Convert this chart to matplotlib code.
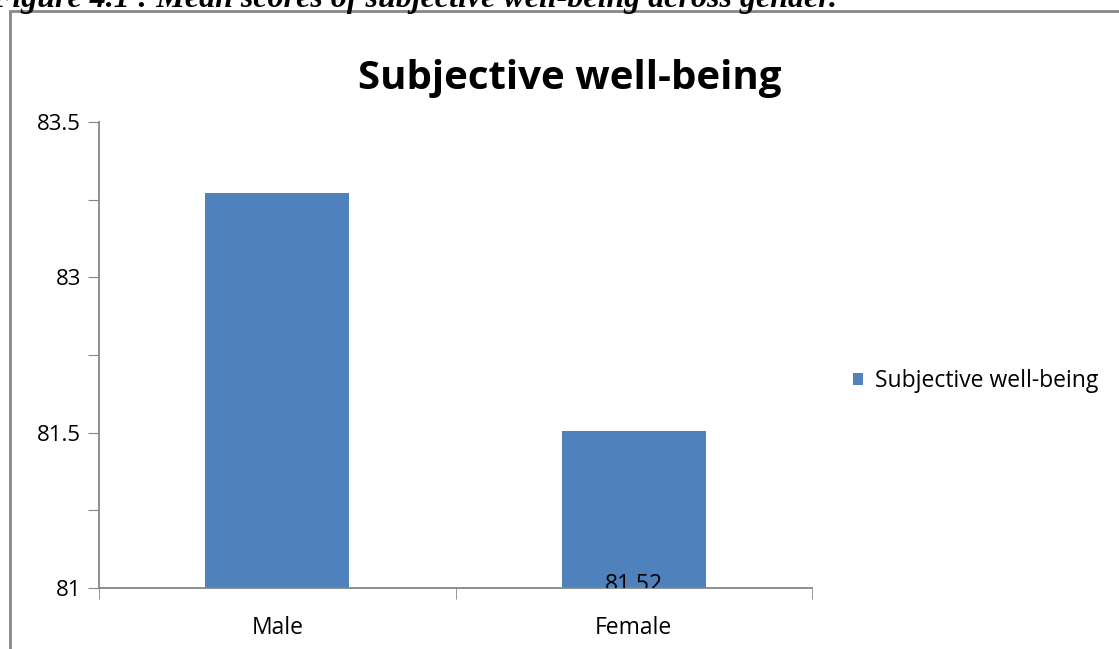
import numpy as np
import matplotlib
matplotlib.use("Agg")
import matplotlib.pyplot as plt
import matplotlib.patches as patches

# data
categories = ["Male", "Female"]
values = [83.27, 81.52]
series_name = "Subjective well-being"
shown_labels = ["", "81.52"]

# the axis in the original is uneven: ticks at these values, evenly spaced
tick_values = [81, 81.25, 81.5, 82.25, 83, 83.25, 83.5]
tick_labels = ["81", "", "81.5", "", "83", "", "83.5"]
positions = np.arange(len(tick_values))

bar_color = "#4f81bd"
plt.rcParams['font.family'] = ['Open Sans', 'DejaVu Sans']


def forward(v):
    return np.interp(v, tick_values, positions)


def inverse(p):
    return np.interp(p, positions, tick_values)


fig = plt.figure(figsize=(11.19, 6.49), dpi=100)
ax = fig.add_axes([99 / 1119, 1 - 588 / 649, (812 - 99) / 1119, (588 - 122) / 649])
ax.set_yscale('function', functions=(forward, inverse))

x = np.arange(len(categories))
ax.bar(x, [v - 81 for v in values], bottom=81, width=0.404, color=bar_color,
       label=series_name, zorder=2)
ax.set_xlim(-0.5, len(categories) - 0.5)
ax.set_ylim(81, 83.5)

# data label sits at the bar base and is cut by the axis line
for xi, lab in zip(x, shown_labels):
    if lab:
        ax.annotate(lab, (xi, 81), xytext=(0, 2.5), textcoords='offset points',
                    ha='center', va='center', fontsize=16.5, clip_on=True,
                    annotation_clip=True)

ax.set_yticks(tick_values)
ax.set_yticklabels(tick_labels, fontsize=16)
ax.set_xticks(x)
ax.set_xticklabels(categories, fontsize=16.5)
ax.xaxis.set_minor_locator(matplotlib.ticker.FixedLocator([-0.5, 0.5, 1.5]))
ax.tick_params(axis='x', which='major', length=0, pad=20)
ax.tick_params(axis='x', which='minor', length=8, color='#868686', direction='out')
ax.tick_params(axis='y', length=8, color='#868686', pad=5)

for s in ['top', 'right']:
    ax.spines[s].set_visible(False)
for s in ['left', 'bottom']:
    ax.spines[s].set_color('#868686')
    ax.spines[s].set_linewidth(1.3)

fig.text(570 / 1119, 1 - 78 / 649, "Subjective well-being", ha='center', va='center',
         fontsize=29, fontweight='bold')

fig.legend(loc='center left', bbox_to_anchor=(853 / 1119, 1 - 381 / 649), frameon=False,
           fontsize=16.5, handlelength=0.45, handleheight=0.45, handletextpad=0.5,
           borderpad=0, borderaxespad=0)

# caption of the figure, cut off by the page edge
fig.text(-9 / 1119, 1 - 7 / 649, "Figure 4.1 : Mean scores of subjective well-being across gender.",
         ha='left', va='baseline', fontsize=23, fontweight='bold', style='italic',
         family='Liberation Serif')

# chart border
fig.patches.append(patches.Rectangle((10 / 1119, -0.1), 1.2, 1 - 11 / 649 + 0.1,
                                     transform=fig.transFigure, fill=False,
                                     edgecolor='#878787', linewidth=2))

fig.savefig("out.png", dpi=100)
